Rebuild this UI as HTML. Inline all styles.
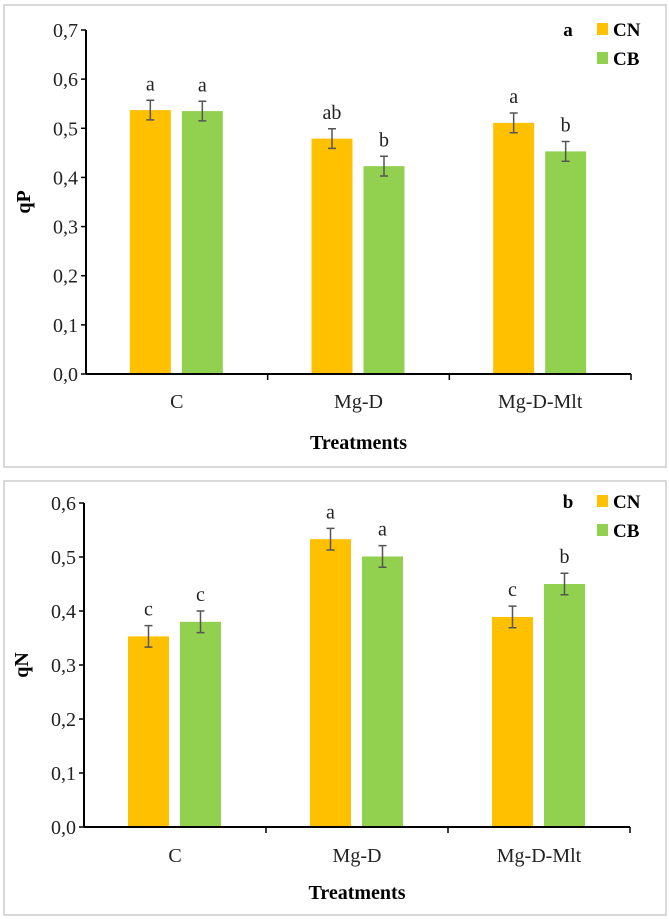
<!DOCTYPE html>
<html><head><meta charset="utf-8"><style>
html,body{margin:0;padding:0;background:#fff;}
svg{display:block;font-family:"Liberation Serif",serif;}
</style></head><body>
<svg id="root" width="669" height="919" viewBox="0 0 669 919"></svg>
<script>
const categories = ["C","Mg-D","Mg-D-Mlt"];
const seriesNames = ["CN","CB"];
const qpCN = [0.537,0.479,0.511];
const qpCB = [0.535,0.423,0.453];
const qpErr = [0.02,0.02,0.02];
const qpLetCN = ["a","ab","a"];
const qpLetCB = ["a","b","b"];
const qnCN = [0.353,0.533,0.389];
const qnCB = [0.380,0.501,0.450];
const qnErr = [0.02,0.02,0.02];
const qnLetCN = ["c","a","c"];
const qnLetCB = ["c","a","b"];
const qpTicks = ["0,0","0,1","0,2","0,3","0,4","0,5","0,6","0,7"];
const qnTicks = ["0,0","0,1","0,2","0,3","0,4","0,5","0,6"];

const NS="http://www.w3.org/2000/svg";
const root=document.getElementById('root');
function mk(tag,attrs,parent,text){const e=document.createElementNS(NS,tag);for(const k in attrs)e.setAttribute(k,attrs[k]);if(text!==undefined)e.textContent=text;parent.appendChild(e);return e;}
const colors=["#FFC000","#92D050"];

function panel(p){
  const g=mk('g',{},root);
  
  
  const fr=mk('rect',{x:p.box[0],y:p.box[1],width:p.box[2],height:p.box[3],fill:'#fff',stroke:'#d9d9d9','stroke-width':2},g);
  
  
  const x0=p.xl,x1=p.xr,yb=p.y0,yt=p.yTop,vmax=p.vmax;
  const ys=v=>yb-(v/vmax)*(yb-yt);
  const gw=(x1-x0)/categories.length;
  // y axis
  const ya=mk('line',{x1:x0,y1:yt,x2:x0,y2:yb,stroke:'#000','stroke-width':2},g);
  
  
  p.ticks.forEach((t,i)=>{
    const v=i*0.1,y=ys(v);
    const tk=mk('line',{x1:x0-5,y1:y,x2:x0,y2:y,stroke:'#000','stroke-width':1.5},g);
    
    
    const tl=mk('text',{x:x0-8,y:y+7,'text-anchor':'end','font-size':20,fill:'#222'},g,t);
    
    
  });
  const yt2=mk('text',{x:0,y:0,'text-anchor':'middle','font-size':20,'font-weight':'bold',transform:`translate(${p.ytx},${(yt+yb)/2}) rotate(-90)`},g,p.ytitle);
  
  
  // bars
  const vals=[p.cn,p.cb],lets=[p.lcn,p.lcb];
  categories.forEach((c,i)=>{
    const cx=x0+gw*(i+0.5);
    [0,1].forEach(s=>{
      const bx=s===0?cx-47:cx+5, bw=41, v=vals[s][i], y=ys(v);
      const r=mk('rect',{x:bx,y:y,width:bw,height:yb-y,fill:colors[s]},g);
      
      
      const mx=bx+bw/2,e=p.err[i],ya2=ys(v+e),yb2=ys(v-e);
      const eb=mk('path',{d:`M${mx-4},${ya2}H${mx+4}M${mx},${ya2}V${yb2}M${mx-4},${yb2}H${mx+4}`,stroke:'#555','stroke-width':1.5,fill:'none'},g);
      
      
      const lt=mk('text',{x:mx,y:ya2-10,'text-anchor':'middle','font-size':20,fill:'#222'},g,lets[s][i]);
      
      
    });
    const cl=mk('text',{x:cx,y:p.catY,'text-anchor':'middle','font-size':20,fill:'#222'},g,c);
    
    
  });
  const xa=mk('line',{x1:x0,y1:yb,x2:x1,y2:yb,stroke:'#000','stroke-width':2},g);
  
  
  for(let i=1;i<=categories.length;i++){
    const tk=mk('line',{x1:x0+gw*i,y1:yb,x2:x0+gw*i,y2:yb+6,stroke:'#000','stroke-width':1.5},g);
    
    
  }
  const xt=mk('text',{x:(x0+x1)/2,y:p.titleY,'text-anchor':'middle','font-size':20,'font-weight':'bold'},g,'Treatments');
  
  
  // legend
  const pl=mk('text',{x:568,y:p.legY+7,'text-anchor':'middle','font-size':19,'font-weight':'bold'},g,p.panelLetter);
  
  
  [0,1].forEach(s=>{
    const ly=p.legY+s*p.legGap;
    const sw=mk('rect',{x:597,y:ly-6,width:11,height:12,fill:colors[s]},g);
    
    
    const lt=mk('text',{x:613,y:ly+7,'font-size':19,'font-weight':'bold'},g,seriesNames[s]);
    
    
  });
}
panel({name:'qp-chart',box:[4,5,662,462],xl:86,xr:631,y0:374,yTop:30,vmax:0.7,ticks:qpTicks,
  cn:qpCN,cb:qpCB,err:qpErr,lcn:qpLetCN,lcb:qpLetCB,ytitle:'qP',ytx:30,catY:408,titleY:449,
  panelLetter:'a',legY:29,legGap:29});
panel({name:'qn-chart',box:[4,481,662,434],xl:84,xr:630,y0:827,yTop:503,vmax:0.6,ticks:qnTicks,
  cn:qnCN,cb:qnCB,err:qnErr,lcn:qnLetCN,lcb:qnLetCB,ytitle:'qN',ytx:28,catY:862,titleY:899,
  panelLetter:'b',legY:501,legGap:29});
</script>
</body></html>
